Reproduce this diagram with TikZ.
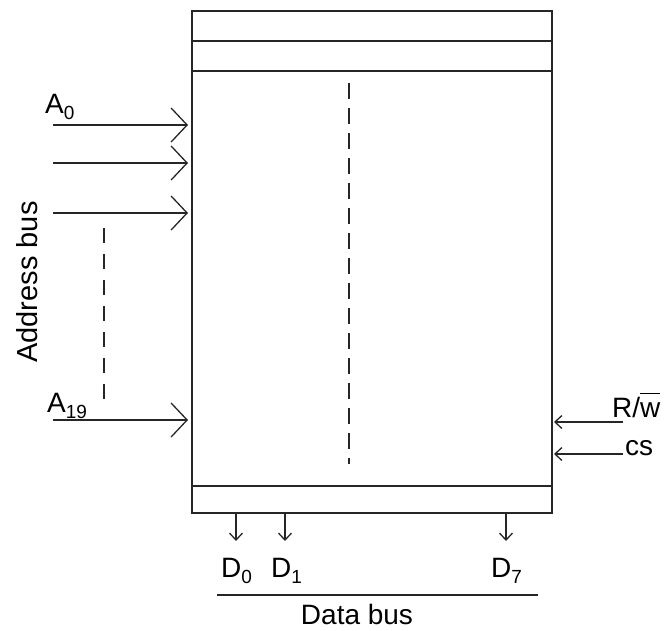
\documentclass[tikz,border=0pt]{standalone}
\usepackage{fontspec}
\setmainfont{Liberation Sans}
\usetikzlibrary{arrows.meta}
\newcommand\mysub[1]{\raisebox{-0.22em}{\fontsize{19}{19}\selectfont #1}}
\tikzset{
  lbl/.style={inner sep=0pt, anchor=base west, font=\fontsize{28}{30}\selectfont},
  boxline/.style={line width=1.8pt, black!85},
  addr/.style={line width=1.5pt, black!85, -{Straight Barb[length=16pt,width=34pt,line width=1.3pt]}},
  small/.style={line width=1.5pt, black!85, -{Straight Barb[length=7pt,width=13pt,line width=1.3pt]}},
  dsh/.style={line width=1.6pt, black!85, dash pattern=on 16pt off 9pt},
}
\begin{document}
\begin{tikzpicture}[x=1pt,y=-1pt]
\useasboundingbox (0,0) rectangle (669,630);
% memory block
\coordinate (tl) at (192,11);
\coordinate (br) at (552,513);
\draw[boxline] (tl) rectangle (br);
\draw[boxline] (192,41) -- (552,41);
\draw[boxline] (192,71) -- (552,71);
\draw[boxline] (192,486) -- (552,486);
\draw[dsh] (349,83) -- (349,464);
% address bus
\coordinate (a0s) at (53,125);  \coordinate (a0e) at (188,125);
\coordinate (a1s) at (53,163);  \coordinate (a1e) at (188,163);
\coordinate (a2s) at (53,213);  \coordinate (a2e) at (188,213);
\coordinate (a19s) at (53,420); \coordinate (a19e) at (188,420);
\draw[addr] (a0s) -- (a0e);
\draw[addr] (a1s) -- (a1e);
\draw[addr] (a2s) -- (a2e);
\draw[addr] (a19s) -- (a19e);
\draw[dsh, dash pattern=on 15pt off 11pt] (104,228) -- (104,405);
\node[lbl] (la0) at (45,113) {A\mysub{0}};
\node[lbl] (la19) at (47,412) {A\mysub{19}};
\node[inner sep=0pt, rotate=90, font=\fontsize{29}{30}\selectfont] (abus) at (27,282) {Address bus};
% control inputs
\coordinate (rws) at (623,422); \coordinate (rwe) at (554,422);
\coordinate (css) at (623,454); \coordinate (cse) at (554,454);
\draw[small] (rws) -- (rwe);
\draw[small] (css) -- (cse);
\node[lbl] (lrw) at (612,417) {R/$\overline{\mbox{w}\rule{0pt}{0.8em}}$};
\node[lbl] (lcs) at (625,455) {cs};
% data bus
\coordinate (d0s) at (236,513); \coordinate (d0e) at (236,541);
\coordinate (d1s) at (285,513); \coordinate (d1e) at (285,541);
\coordinate (d7s) at (506,513); \coordinate (d7e) at (506,541);
\draw[small] (d0s) -- (d0e);
\draw[small] (d1s) -- (d1e);
\draw[small] (d7s) -- (d7e);
\node[lbl] (ld0) at (221,577) {D\mysub{0}};
\node[lbl] (ld1) at (271,577) {D\mysub{1}};
\node[lbl] (ld7) at (491,577) {D\mysub{7}};
\coordinate (bl) at (217,595); \coordinate (brr) at (538,595);
\draw[line width=1.5pt, black!85] (bl) -- (brr);
\node[inner sep=0pt, anchor=base, font=\fontsize{28}{30}\selectfont] (dbus) at (357,624) {Data bus};
\end{tikzpicture}
\end{document}
